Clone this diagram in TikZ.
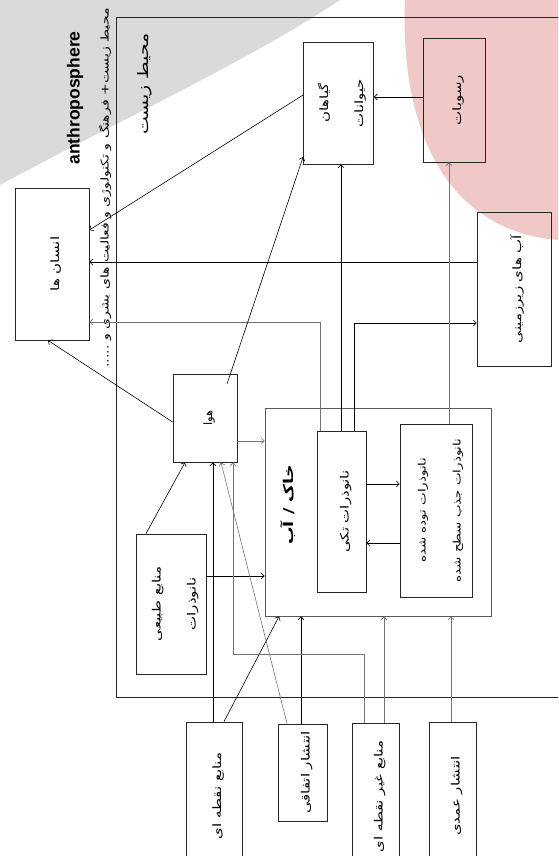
\documentclass[tikz,border=0pt]{standalone}
\usepackage{fontspec}
\usepackage{graphicx}
\usetikzlibrary{arrows.meta}
\TeXXeTstate=1
\newfontfamily\fa[Script=Arabic]{DejaVu Sans}
\newfontfamily\lat{Liberation Sans}
\newcommand{\rl}[1]{\scalebox{1.3}[1]{\beginR #1\endR}}
\newcommand{\rt}[1]{\rotatebox{90}{\begin{tabular}{@{}c@{}}#1\end{tabular}}}
\definecolor{pinkbg}{RGB}{240,200,200}
\definecolor{graybg}{RGB}{218,218,218}
\begin{document}
\begin{tikzpicture}[x=1pt,y=-1pt,
  box/.style={draw=black!85, line width=0.8pt, inner sep=0pt, font=\fa\fontsize{11.5}{35}\selectfont},
  arr/.style={line width=0.6pt, -{Straight Barb[length=3pt,width=6pt]}},
  garr/.style={arr, draw=black!55},
  txt/.style={inner sep=0pt}]
\useasboundingbox (0,0) rectangle (558,856);
\clip (0,0) rectangle (558,856);
% background
\fill[graybg] (0,0) -- (340,0) .. controls (250,60) and (120,120) .. (0,185) -- cycle;
\fill[pinkbg] (405,0) .. controls (400,120) and (440,230) .. (558,240) -- (558,0) -- cycle;
% environment box
\node[box, minimum width=484, minimum height=680] (env) at (358,357) {};
\node[txt, font=\lat\bfseries\fontsize{17.5}{19}\selectfont] (title) at (75,98) {\rotatebox{90}{anthroposphere}};
\node[txt, font=\fa\fontsize{10.8}{12}\selectfont] (sub) at (105,188) {\rotatebox{90}{\rl{محیط زیست+ فرهنگ و تکنولوژی و فعالیت های بشری و .....}}};
\node[txt, font=\fa\fontsize{14.5}{16}\selectfont] (envlbl) at (145,84) {\rotatebox{90}{\rl{محیط زیست}}};
% boxes
\node[box, minimum width=74, minimum height=152] (humans) at (52,264) {\rt{\rl{انسان ها}}};
\node[box, minimum width=65, minimum height=122] (plants) at (338.5,103) {\rt{\rl{گیاهان}\\\rl{حیوانات}}};
\node[box, minimum width=62, minimum height=124] (sed) at (454,100) {\rt{\rl{رسوبات}}};
\node[box, minimum width=74, minimum height=154] (gw) at (514,289) {\rt{\rl{آب های زیرزمینی}}};
\node[box, minimum width=64, minimum height=88] (air) at (205,418) {\rt{\beginR هوا\endR}};
\node[box, draw=black!65, minimum width=226, minimum height=208] (soil) at (378,512) {};
\node[txt, font=\fa\bfseries\fontsize{13.5}{15}\selectfont] (soiltxt) at (288,505) {\rotatebox{90}{\rl{خاک / آب}}};
\node[box, minimum width=49, minimum height=161] (single) at (341.5,511.5) {\rt{\rl{نانوذرات تکی}}};
\node[box, minimum width=72, minimum height=173, font=\fa\fontsize{10.3}{35}\selectfont] (agg) at (436,510.5) {\rt{\rl{نانوذرات توده شده}\\\rl{نانوذرات جذب سطح شده}}};
\node[box, minimum width=66, minimum height=140] (nat) at (171,604) {\rt{\rl{منابع طبیعی}\\\rl{نانوذرات}}};
\node[box, minimum width=56, minimum height=148] (point) at (214,796) {\rt{\rl{منابع نقطه ای}}};
\node[box, minimum width=49, minimum height=97] (acc) at (302.5,772.5) {\rt{\rl{انتشار اتفاقی}}};
\node[box, minimum width=47, minimum height=147] (nonpt) at (375.5,796.5) {\rt{\rl{منابع غیر نقطه ای}}};
\node[box, minimum width=47, minimum height=148] (int) at (452.5,796) {\rt{\rl{انتشار عمدی}}};
% helper coordinates
\coordinate (a97) at (0,97);
\coordinate (c95) at (0,95);
\coordinate (c230) at (0,230);
\coordinate (c262) at (0,262);
\coordinate (p320) at (320,322);
\coordinate (p342) at (341,0);
\coordinate (p354) at (354,323);
\coordinate (p449) at (449,0);
\coordinate (c484) at (0,484);
\coordinate (c543) at (0,543);
\coordinate (c441) at (0,441);
\coordinate (airp) at (227,384);
\coordinate (c157) at (0,157);
\coordinate (c422) at (0,422);
\coordinate (p48) at (48,0);
\coordinate (p146) at (146,0);
\coordinate (p185) at (185,0);
\coordinate (c576) at (0,576);
\coordinate (p213) at (213,0);
\coordinate (p224) at (224,0);
\coordinate (p279) at (279,0);
\coordinate (p301) at (301,0);
\coordinate (p287) at (287,0);
\coordinate (p221) at (221,0);
\coordinate (p384) at (384,0);
\coordinate (p364) at (364,0);
\coordinate (q654) at (233,654);
\coordinate (p451) at (451,0);
% connectors
\draw[arr] (sed.west |- a97) -- (plants.east |- a97);
\draw[arr] (plants.west |- c95) -- (humans.east |- c230);
\draw[arr] (gw.west |- c262) -- (humans.east |- c262);
\draw[garr] (single.north -| p320) |- (humans.east |- p320);
\draw[arr] (single.north -| p342) -- (plants.south -| p342);
\draw[arr] (single.north -| p354) |- (gw.west |- p354);
\draw[garr] (agg.north -| p449) -- (sed.south -| p449);
\draw[arr] (single.east |- c484) -- (agg.west |- c484);
\draw[arr] (agg.west |- c543) -- (single.east |- c543);
\draw[garr] (air.east |- c441) -- (soil.west |- c441);
\draw[arr] (airp) -- (plants.west |- c157);
\draw[arr] (air.west |- c422) -- (humans.south -| p48);
\draw[arr] (nat.north -| p146) -- (air.south -| p185);
\draw[arr] (nat.east |- c576) -- (soil.west |- c576);
\draw[arr] (point.north -| p213) -- (air.south -| p213);
\draw[arr] (point.north -| p224) -- (soil.south -| p279);
\draw[arr] (acc.north -| p301) -- (soil.south -| p301);
\draw[garr] (acc.north -| p287) -- (air.south -| p221);
\draw[garr] (nonpt.north -| p384) -- (soil.south -| p384);
\draw[garr] (nonpt.north -| p364) |- (q654) -- (air.south -| q654);
\draw[garr] (int.north -| p451) -- (soil.south -| p451);
\end{tikzpicture}
\end{document}
